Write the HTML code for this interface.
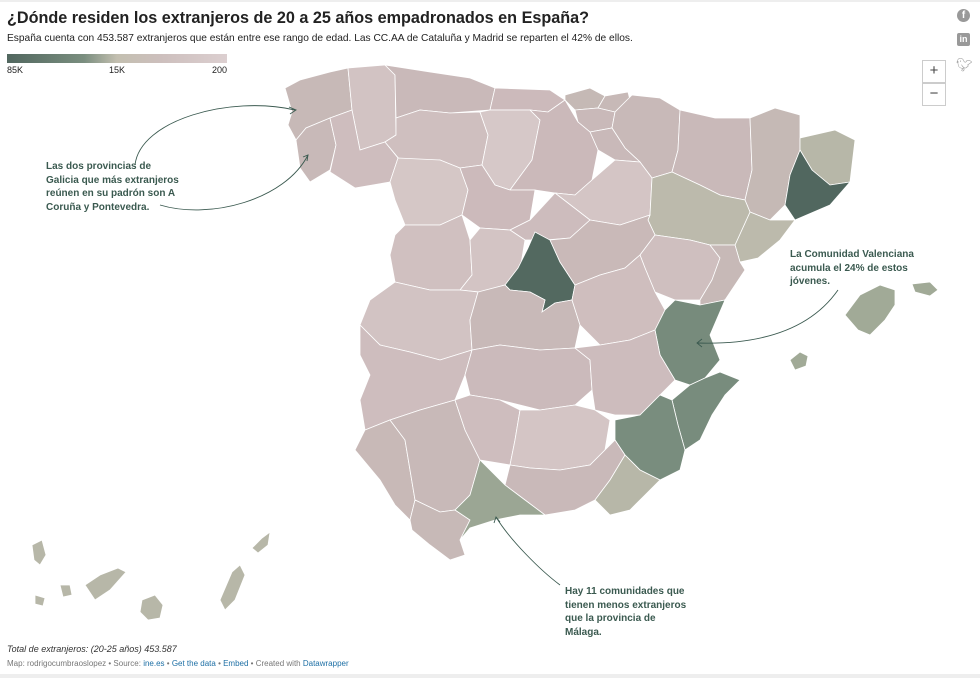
<!DOCTYPE html>
<html><head><meta charset="utf-8">
<style>
body{margin:0;background:#fff;font-family:"Liberation Sans",sans-serif;width:980px;height:678px;overflow:hidden;position:relative}
.t{position:absolute;left:7px;top:9px;font-size:16.2px;font-weight:bold;color:#222}
.s{position:absolute;left:7px;top:33px;font-size:10.2px;color:#222}
.ann{position:absolute;font-size:10px;font-weight:bold;color:#3b5a50;line-height:13.5px}
.f1{position:absolute;left:7px;top:644px;font-size:9px;font-style:italic;color:#333}
.f2{position:absolute;left:7px;top:659px;font-size:8px;color:#777}
.f2 a{color:#1d6fa5;text-decoration:none}
.zb{position:absolute;left:922px;width:22px;height:21px;border:1px solid #ccc;background:#fff;font-size:15px;text-align:center;line-height:20px;color:#444}
</style></head><body>
<div style="position:absolute;left:0;top:0;width:980px;height:2px;background:#eee"></div>
<div class="t">¿Dónde residen los extranjeros de 20 a 25 años empadronados en España?</div>
<div class="s">España cuenta con 453.587 extranjeros que están entre ese rango de edad. Las CC.AA de Cataluña y Madrid se reparten el 42% de ellos.</div>
<div style="position:absolute;left:7px;top:54px;width:220px;height:9px;background:linear-gradient(to right,#51675f,#7a8e7f 35%,#c3bfb0 50%,#cdbfbd 70%,#dccfd0)"></div>
<div style="position:absolute;left:7px;top:65px;font-size:9px;color:#222">85K</div>
<div style="position:absolute;left:109px;top:65px;font-size:9px;color:#222">15K</div>
<div style="position:absolute;left:212px;top:65px;font-size:9px;color:#222">200</div>

<svg id="map" width="980" height="678" style="position:absolute;left:0;top:0">
<g id="prov"></g>
<g fill="none" stroke="#3b5a50" stroke-width="0.9">
<path d="M135,165 C140,120 230,95 295,110"/>
<path d="M160,205 C210,220 285,200 308,155"/>
<path d="M838,290 C810,330 760,345 697,343"/>
<path d="M560,585 C540,570 510,540 496,517"/>
<path d="M289,107 L296,110 L290,114 M303,157 L308,155 L307,161 M702,339 L697,343 L702,347 M494,523 L496,517 L500,522"/>
</g>
</svg>

<div class="ann" style="left:46px;top:160px">Las dos provincias de<br>Galicia que más extranjeros<br>reúnen en su padrón son A<br>Coruña y Pontevedra.</div>
<div class="ann" style="left:790px;top:248px">La Comunidad Valenciana<br>acumula el 24% de estos<br>jóvenes.</div>
<div class="ann" style="left:565px;top:585px">Hay 11 comunidades que<br>tienen menos extranjeros<br>que la provincia de<br>Málaga.</div>

<div class="zb" style="top:60px">+</div>
<div class="zb" style="top:83px">−</div>
<div style="position:absolute;left:957px;top:9px;width:13px;height:13px;border-radius:50%;background:#999;color:#fff;font-size:10px;font-weight:bold;text-align:center;line-height:14px">f</div>
<div style="position:absolute;left:957px;top:33px;width:13px;height:13px;border-radius:2px;background:#999;color:#fff;font-size:9px;font-weight:bold;text-align:center;line-height:13px">in</div>
<div style="position:absolute;left:956px;top:57px;font-size:13px;color:#999">🐦︎</div>

<div class="f1">Total de extranjeros: (20-25 años) 453.587</div>
<div class="f2">Map: rodrigocumbraoslopez • Source: <a>ine.es</a> • <a>Get the data</a> • <a>Embed</a> • Created with <a>Datawrapper</a></div>
<div style="position:absolute;left:0;top:674px;width:980px;height:4px;background:#eee"></div>

<script>
const provinces=["coruna","lugo","pontevedra","ourense","asturias","cantabria","vizcaya","gipuzkoa","alava","navarra","rioja","huesca","lleida","girona","barcelona","tarragona","leon","palencia","burgos","zamora","valladolid","soria","zaragoza","salamanca","segovia","avila","madrid","guadalajara","teruel","castellon","caceres","toledo","cuenca","valencia","badajoz","ciudadreal","albacete","alicante","huelva","sevilla","cordoba","jaen","murcia","granada","almeria","cadiz","malaga","mallorca","menorca","ibiza","tenerife","lapalma","gomera","hierro","grancanaria","fuerteventura","lanzarote"];
const values=[3500,1000,3000,1500,2500,1800,4500,3500,2500,3000,2500,2500,4500,9000,85000,8000,1300,600,2000,700,1800,800,8000,1200,1600,900,80000,2800,1300,3500,1000,3000,1400,25000,1500,1900,1600,24000,23000,3000,1500,800,20000,2500,9000,3500,15000,14000,14000,14000,9000,9000,9000,9000,9000,9000,9000];
values[38]=3200; values[42]=23500;
const shapes={
coruna:"285,88 300,80 330,72 348,68 352,110 330,118 306,128 296,140 288,125 292,112",
lugo:"348,68 385,65 395,75 396,135 385,142 360,150 352,110",
pontevedra:"296,140 306,128 330,118 336,145 330,170 310,182 300,168",
ourense:"330,118 352,110 360,150 385,142 398,158 390,182 355,188 330,172 336,145",
asturias:"385,65 430,72 470,78 495,88 490,110 450,113 420,110 396,118 395,75",
cantabria:"495,88 550,90 565,100 548,112 530,110 490,110",
vizcaya:"565,95 590,88 605,96 598,108 575,110 565,100",
gipuzkoa:"605,96 628,92 632,108 615,112 598,108",
alava:"575,110 598,108 615,112 612,128 590,132 578,122",
navarra:"632,95 660,98 680,110 678,150 672,172 652,178 640,162 625,148 612,128 615,112",
rioja:"590,132 612,128 625,148 640,162 615,160 598,150",
huesca:"680,110 715,118 750,118 752,170 745,200 720,195 700,185 672,172 678,150",
lleida:"750,118 775,108 800,115 800,150 790,175 785,205 770,220 750,212 745,200 752,170",
girona:"800,138 835,130 855,140 850,182 830,185 812,170 800,150",
barcelona:"800,150 812,170 830,185 850,182 830,205 795,220 785,205 790,175",
tarragona:"770,220 795,220 780,240 758,258 740,262 735,245 750,212",
leon:"396,118 420,110 450,113 480,112 488,135 482,165 460,168 440,160 400,160 385,142 396,135",
palencia:"480,112 490,110 530,110 540,120 532,160 510,190 495,185 482,165 488,135",
burgos:"530,110 548,112 565,100 578,122 590,132 598,150 592,180 575,195 555,193 535,190 510,190 532,160 540,120",
zamora:"390,182 398,158 440,160 460,168 468,190 462,215 440,225 405,225 395,200",
valladolid:"460,168 482,165 495,185 510,190 535,190 530,220 510,230 480,228 462,215 468,190",
soria:"575,195 592,180 615,160 640,162 652,178 650,215 620,225 590,220 555,193",
zaragoza:"652,178 672,172 700,185 720,195 745,200 750,212 735,245 710,245 690,240 655,235 648,220 650,215",
salamanca:"405,225 440,225 462,215 470,240 472,275 460,290 430,290 395,282 390,255 395,235",
segovia:"510,230 530,220 555,193 590,220 570,238 545,240 525,240",
avila:"470,240 480,228 510,230 525,240 520,270 505,285 480,292 460,290 472,275",
madrid:"535,232 550,240 560,262 575,285 572,300 555,303 542,312 545,300 530,292 510,290 505,285 518,268 528,248",
guadalajara:"570,238 590,220 620,225 650,215 648,220 655,235 640,255 625,268 600,275 575,285 560,262 550,240",
teruel:"655,235 690,240 710,245 720,258 712,280 700,300 675,300 655,292 645,268 640,255",
castellon:"710,245 735,245 740,262 745,270 725,300 700,305 700,300 712,280 720,258",
caceres:"395,282 430,290 460,290 478,292 470,320 472,350 440,360 410,352 380,345 360,325 370,300",
toledo:"478,292 505,285 510,290 530,292 545,300 542,312 555,303 572,300 580,325 575,348 540,350 500,345 472,350 470,320",
cuenca:"575,285 600,275 625,268 640,255 645,268 655,292 665,310 655,330 630,340 600,345 580,325 572,300",
valencia:"665,310 675,300 700,305 725,300 710,335 720,360 705,378 690,385 675,380 660,355 655,330",
badajoz:"360,325 380,345 410,352 440,360 472,350 465,375 455,400 420,410 390,420 365,430 360,400 370,375 360,355",
ciudadreal:"472,350 500,345 540,350 575,348 590,360 592,390 575,405 540,410 500,400 470,395 465,375",
albacete:"575,348 600,345 630,340 655,330 660,355 675,380 660,395 640,415 615,415 595,410 592,390 590,360",
alicante:"690,385 705,378 720,372 740,380 725,395 712,415 700,440 685,450 678,425 672,400",
huelva:"365,430 390,420 405,440 410,470 415,500 410,520 395,505 380,480 365,462 355,450",
sevilla:"390,420 420,410 455,400 465,430 480,460 470,495 455,510 440,512 415,500 410,470 405,440",
cordoba:"455,400 470,395 500,400 520,410 515,440 510,465 480,460 465,430",
jaen:"520,410 540,410 575,405 595,410 610,420 605,450 590,465 560,470 530,468 510,465 515,440",
murcia:"640,415 660,395 672,400 678,425 685,450 680,470 660,480 640,470 625,455 615,440 615,420",
granada:"510,465 530,468 560,470 590,465 605,450 615,440 625,455 610,480 595,500 575,510 545,515 525,500 505,485",
almeria:"625,455 640,470 660,480 645,495 630,510 610,515 595,500 610,480",
cadiz:"410,520 415,500 440,512 455,510 470,520 460,540 465,555 450,560 430,545 412,530",
malaga:"455,510 470,495 480,460 505,485 525,500 545,515 520,515 495,520 470,528 460,540 470,520",
mallorca:"845,315 860,295 880,285 895,290 895,305 885,320 870,335 858,330",
menorca:"912,284 930,282 938,290 930,296 915,292",
ibiza:"790,360 800,352 808,356 806,366 795,370",
tenerife:"85,585 100,575 118,568 126,572 110,590 95,600",
lapalma:"32,545 42,540 46,555 40,565 34,560",
gomera:"60,585 70,585 72,595 63,597",
hierro:"35,595 45,598 43,606 35,604",
grancanaria:"142,600 155,595 163,605 160,618 148,620 140,612",
fuerteventura:"232,572 240,565 245,575 235,600 225,610 220,600",
lanzarote:"252,548 262,538 270,532 268,545 258,553"};
const stops=[[0,"#51675f"],[0.22,"#7a8e7f"],[0.3,"#a2ab98"],[0.4,"#bfbcae"],[0.5,"#c6b9b6"],[0.62,"#cbb9ba"],[0.75,"#d3c4c4"],[1,"#ddd3d2"]];
const pos=v=>Math.max(0,Math.min(1,Math.log(85000/v)/Math.log(425)));
function mix(a,b,t){const p=s=>[1,3,5].map(i=>parseInt(s.substr(i,2),16));const x=p(a),y=p(b);return "rgb("+x.map((c,i)=>Math.round(c+(y[i]-c)*t)).join(",")+")";}
function color(v){const t=pos(v);for(let i=1;i<stops.length;i++){if(t<=stops[i][0])return mix(stops[i-1][1],stops[i][1],(t-stops[i-1][0])/(stops[i][0]-stops[i-1][0]));}return stops[stops.length-1][1];}
const g=document.getElementById("prov");
provinces.forEach((p,i)=>{
const el=document.createElementNS("http://www.w3.org/2000/svg","polygon");
el.setAttribute("points",shapes[p]);
el.setAttribute("fill",color(values[i]));
el.setAttribute("stroke","#fff");
el.setAttribute("stroke-width","0.8");


g.appendChild(el);
});
</script>
</body></html>
